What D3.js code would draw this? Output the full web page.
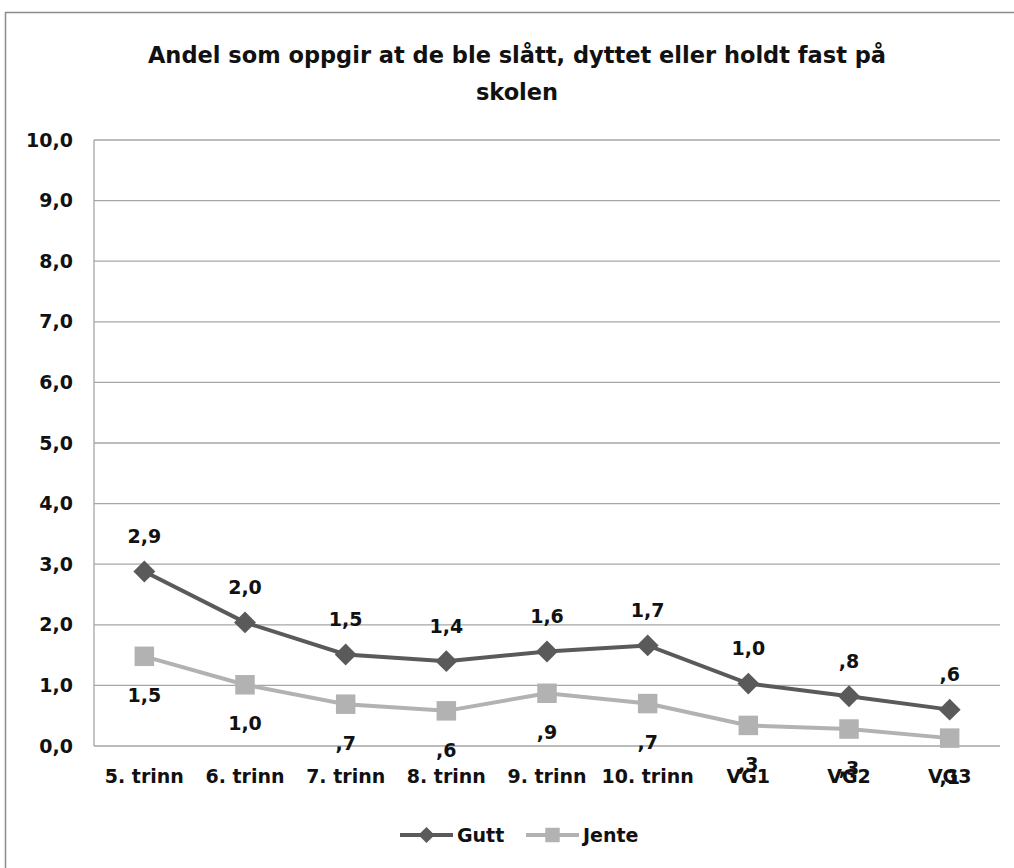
<!DOCTYPE html>
<html>
<head>
<meta charset="utf-8">
<script src="https://cdn.jsdelivr.net/npm/d3@7"></script>
<style>
  body { margin: 0; background: #fff; }
  text { font-family: "DejaVu Sans", sans-serif; font-weight: bold; fill: #111; }
</style>
</head>
<body>
<div id="chart"></div>
<script>
var categories = ["5. trinn", "6. trinn", "7. trinn", "8. trinn", "9. trinn", "10. trinn", "VG1", "VG2", "VG3"];
var gutt = [2.88, 2.04, 1.51, 1.40, 1.56, 1.66, 1.03, 0.82, 0.60];
var jente = [1.48, 1.01, 0.69, 0.58, 0.87, 0.70, 0.34, 0.28, 0.13];
var yTicks = [0, 1, 2, 3, 4, 5, 6, 7, 8, 9, 10];
var titleLines = ["Andel som oppgir at de ble slått, dyttet eller holdt fast på", "skolen"];

var width = 1014;
var height = 868;
var margin = { top: 140, right: 14, bottom: 122, left: 94 };

var series = [
  { name: "Gutt", values: gutt, color: "#5a5a5a", symbol: d3.symbolSquare, size: 240, rotate: 45, labelDy: -35 },
  { name: "Jente", values: jente, color: "#b2b2b2", symbol: d3.symbolSquare, size: 380, rotate: 0, labelDy: 39 }
];

// 1,5 / ,7 style labels
function fmt(v) {
  return d3.format(".1f")(v).replace(".", ",").replace(/^0,/, ",");
}

var svg = d3.select("#chart").append("svg")
  .attr("width", width)
  .attr("height", height);

// outer frame
svg.append("rect")
  .attr("x", 5.5).attr("y", 12.5)
  .attr("width", 1020).attr("height", 880)
  .attr("fill", "none")
  .attr("stroke", "#8c8c8c")
  .attr("stroke-width", 1.5);

var x = d3.scaleBand()
  .domain(categories)
  .range([margin.left, width - margin.right]);

var y = d3.scaleLinear()
  .domain([0, 10])
  .range([height - margin.bottom, margin.top]);

// title
svg.append("text")
  .attr("x", 517)
  .attr("y", 63)
  .attr("text-anchor", "middle")
  .style("font-size", "22.5px")
  .selectAll("tspan")
  .data(titleLines)
  .enter()
  .append("tspan")
  .attr("x", 517)
  .attr("dy", (d, i) => i === 0 ? 0 : 37)
  .text(d => d);

// grid lines
svg.append("g")
  .selectAll("line")
  .data(yTicks)
  .enter()
  .append("line")
  .attr("x1", margin.left)
  .attr("x2", width - margin.right)
  .attr("y1", d => y(d))
  .attr("y2", d => y(d))
  .attr("stroke", "#a6a6a6")
  .attr("stroke-width", 1.3);

// y axis line
svg.append("line")
  .attr("x1", margin.left).attr("x2", margin.left)
  .attr("y1", y(10)).attr("y2", y(0))
  .attr("stroke", "#a6a6a6")
  .attr("stroke-width", 1.3);

// y tick labels
svg.append("g")
  .selectAll("text")
  .data(yTicks)
  .enter()
  .append("text")
  .attr("x", 73)
  .attr("y", d => y(d))
  .attr("dy", "0.35em")
  .attr("text-anchor", "end")
  .style("font-size", "19px")
  .text(d => d3.format(".1f")(d).replace(".", ","));

// x labels
svg.append("g")
  .selectAll("text")
  .data(categories)
  .enter()
  .append("text")
  .attr("x", d => x(d) + x.bandwidth() / 2)
  .attr("y", 783)
  .attr("text-anchor", "middle")
  .style("font-size", "19px")
  .text(d => d);

var line = d3.line()
  .x((d, i) => x(categories[i]) + x.bandwidth() / 2)
  .y(d => y(d));

series.forEach(function (s) {
  var g = svg.append("g");
  g.append("path")
    .datum(s.values)
    .attr("d", line)
    .attr("fill", "none")
    .attr("stroke", s.color)
    .attr("stroke-width", 4);

  g.selectAll(".pt")
    .data(s.values)
    .enter()
    .append("path")
    .attr("class", "pt")
    .attr("d", d3.symbol().type(s.symbol).size(s.size))
    .attr("transform", (d, i) => "translate(" + (x(categories[i]) + x.bandwidth() / 2) + "," + y(d) + ") rotate(" + s.rotate + ")")
    .attr("fill", s.color);

  g.selectAll(".lbl")
    .data(s.values)
    .enter()
    .append("text")
    .attr("class", "lbl")
    .attr("x", (d, i) => x(categories[i]) + x.bandwidth() / 2)
    .attr("y", d => y(d) + s.labelDy)
    .attr("dy", "0.35em")
    .attr("text-anchor", "middle")
    .style("font-size", "19px")
    .text(d => fmt(d));
});

// legend
var legend = svg.append("g").attr("transform", "translate(400,835)");
var lx = 0;
series.forEach(function (s) {
  var item = legend.append("g").attr("transform", "translate(" + lx + ",0)");
  item.append("line")
    .attr("x1", 0).attr("x2", 53)
    .attr("stroke", s.color)
    .attr("stroke-width", 4);
  item.append("path")
    .attr("d", d3.symbol().type(s.symbol).size(s.size * 0.55))
    .attr("transform", "translate(26.5,0) rotate(" + s.rotate + ")")
    .attr("fill", s.color);
  item.append("text")
    .attr("x", 57)
    .attr("dy", "0.35em")
    .style("font-size", "19px")
    .text(s.name);
  lx += 126;
});
</script>
</body>
</html>
